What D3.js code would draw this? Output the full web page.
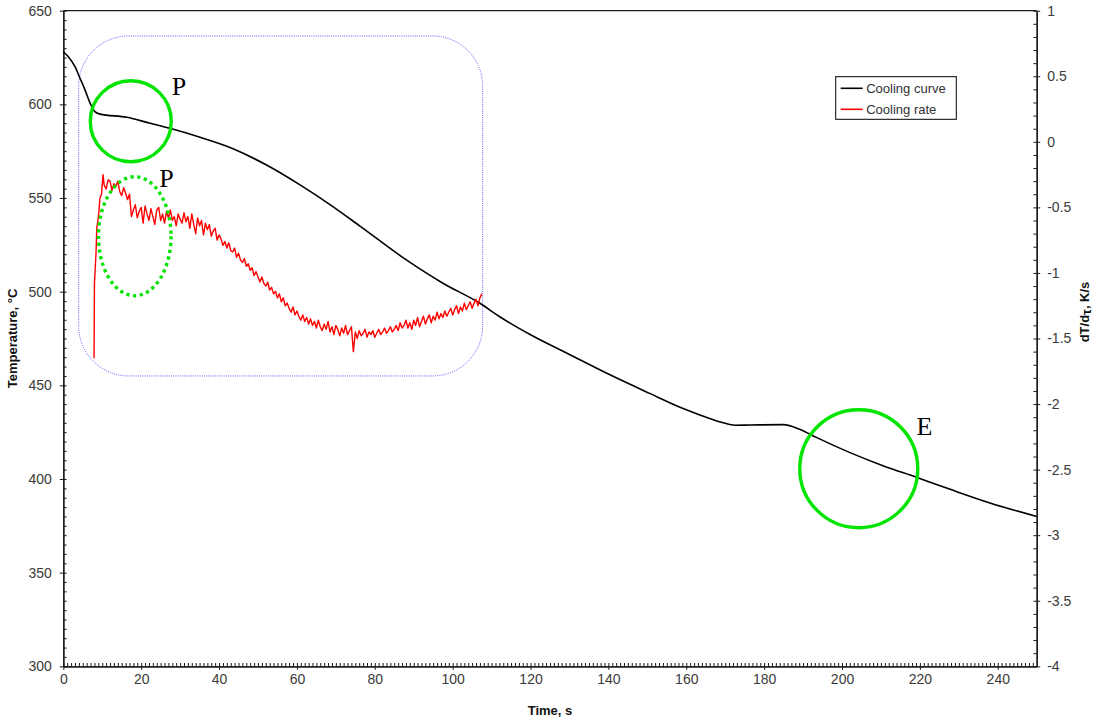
<!DOCTYPE html>
<html>
<head>
<meta charset="utf-8">
<script src="https://cdn.jsdelivr.net/npm/d3@7"></script>
<style>
  html, body { margin: 0; padding: 0; background: #fff; }
  svg { display: block; font-family: "Liberation Sans", Arial, sans-serif; }
</style>
</head>
<body>
<svg id="chart" width="1094" height="719"></svg>
<script>
// ---------------- DATA ----------------
const xTicks = [0, 20, 40, 60, 80, 100, 120, 140, 160, 180, 200, 220, 240];
const yLeftTicks = [300, 350, 400, 450, 500, 550, 600, 650];
const yRightTicks = [1, 0.5, 0, -0.5, -1, -1.5, -2, -2.5, -3, -3.5, -4];

// Cooling curve: [time s, temperature °C]
const coolingCurve = [
  [0, 628.1], [1.3, 625.4], [3, 620.1], [4.3, 613.9], [5.6, 607.6], [6.9, 600.6],
  [8.1, 596.1], [9.4, 594.8], [16.3, 593.1], [22.3, 589.9], [27.4, 587.2],
  [35.1, 582.4], [43.6, 576.3], [52.2, 567.6], [60.8, 557.0], [68.5, 546.5],
  [76.2, 535.0], [88.2, 516.8], [97.5, 504.5], [107, 493.8], [112.1, 486.6],
  [120, 477.0], [130, 466.5], [140, 456.0], [150.6, 445.7], [159.2, 437.6],
  [166, 432.3], [169.5, 430.0], [172.5, 428.7], [176.3, 428.8], [184.9, 429.0], [189.1, 426.6],
  [193.4, 422.2], [201.9, 414.2], [210.5, 407.1], [219.1, 400.9], [227.6, 394.6],
  [238, 387.2], [250, 380.0]
];

// Cooling rate: [time s, dT/dτ K/s]
const coolingRate = [
  [7.9, -1.65], [8.0, -1.08], [8.4, -0.85], [8.6, -0.66], [9.1, -0.55], [9.4, -0.43],
  [9.8, -0.40], [10.2, -0.25],
  [10.5, -0.33], [11, -0.36], [11.5, -0.29], [12, -0.30], [12.5, -0.37], [13, -0.32],
  [13.5, -0.34], [14, -0.30], [14.5, -0.38], [15, -0.41], [15.5, -0.35], [16, -0.39],
  [16.5, -0.44], [17, -0.40], [17.5, -0.57], [18, -0.52], [18.5, -0.48], [19, -0.58],
  [19.5, -0.53], [20, -0.50], [20.5, -0.62], [21, -0.49], [21.5, -0.55], [22, -0.60],
  [22.5, -0.51], [23, -0.57], [23.5, -0.63], [24, -0.52], [24.5, -0.50], [25, -0.60],
  [25.5, -0.55], [26, -0.62], [26.5, -0.53], [27, -0.58], [27.5, -0.52], [28, -0.60],
  [28.5, -0.57], [29, -0.64], [29.5, -0.55], [30, -0.59], [30.5, -0.62], [31, -0.54],
  [31.5, -0.61], [32, -0.57], [32.5, -0.66], [33, -0.55], [33.5, -0.63], [34, -0.70],
  [34.5, -0.58], [35, -0.64], [35.5, -0.60], [36, -0.71], [36.5, -0.62], [37, -0.67],
  [37.5, -0.63], [38, -0.72], [38.5, -0.68], [39, -0.66], [39.5, -0.75], [40, -0.71],
  [40.5, -0.74], [41, -0.79], [41.5, -0.76], [42, -0.81], [42.5, -0.77], [43, -0.83],
  [43.5, -0.84], [44, -0.81], [44.5, -0.88], [45, -0.85], [45.5, -0.90], [46, -0.92],
  [46.5, -0.89], [47, -0.95], [47.5, -0.93], [48, -0.98], [48.5, -0.96], [49, -1.02],
  [49.5, -0.99], [50, -1.03], [50.5, -1.07], [51, -1.03], [51.5, -1.08], [52, -1.10],
  [52.5, -1.07], [53, -1.13], [53.5, -1.11], [54, -1.16], [54.5, -1.14], [55, -1.19],
  [55.5, -1.16], [56, -1.22], [56.5, -1.19], [57, -1.25], [57.5, -1.23], [58, -1.27],
  [58.5, -1.30], [59, -1.26], [59.5, -1.32], [60, -1.29], [60.5, -1.33], [61, -1.36],
  [61.5, -1.32], [62, -1.37], [62.5, -1.34], [63, -1.39], [63.5, -1.35], [64, -1.40],
  [64.5, -1.37], [65, -1.42], [65.5, -1.36], [66, -1.41], [66.5, -1.44], [67, -1.39],
  [67.5, -1.43], [68, -1.37], [68.5, -1.45], [69, -1.41], [69.5, -1.47], [70, -1.40],
  [70.5, -1.43], [71, -1.48], [71.5, -1.42], [72, -1.46], [72.5, -1.40], [73, -1.47],
  [73.5, -1.44], [74, -1.41], [74.5, -1.60], [75, -1.45], [75.5, -1.50], [76, -1.44],
  [76.5, -1.48], [77, -1.46], [77.5, -1.43], [78, -1.49], [78.5, -1.45], [79, -1.47],
  [79.5, -1.44], [80, -1.49], [80.5, -1.46], [81, -1.43], [81.5, -1.47], [82, -1.45],
  [82.5, -1.42], [83, -1.46], [83.5, -1.44], [84, -1.41], [84.5, -1.45], [85, -1.43],
  [85.5, -1.40], [86, -1.44], [86.5, -1.38], [87, -1.42], [87.5, -1.40], [88, -1.36],
  [88.5, -1.42], [89, -1.38], [89.5, -1.43], [90, -1.36], [90.5, -1.40], [91, -1.34],
  [91.5, -1.41], [92, -1.37], [92.5, -1.33], [93, -1.39], [93.5, -1.35], [94, -1.32],
  [94.5, -1.38], [95, -1.33], [95.5, -1.36], [96, -1.30], [96.5, -1.35], [97, -1.31],
  [97.5, -1.34], [98, -1.29], [98.5, -1.33], [99, -1.30], [99.5, -1.27], [100, -1.32],
  [100.5, -1.28], [101, -1.25], [101.5, -1.31], [102, -1.26], [102.5, -1.29], [103, -1.23],
  [103.5, -1.28], [104, -1.25], [104.5, -1.22], [105, -1.27], [105.5, -1.23], [106, -1.20],
  [106.5, -1.25], [107, -1.19], [107.5, -1.16]
];

// Annotation marks (data coordinates)
const highlightBox = { t0: 3.95, t1: 107.7, T0: 636.5, T1: 455 };
const circleP = { t: 17.33, T: 591, r: 40.5 };
const ellipseP = { t: 18.35, v: -0.72, rx: 36.3, ry: 59.5 };
const circleE = { t: 204.3, T: 405.5, r: 59 };
const labels = [
  { text: "P", t: 27.85, T: 605 },
  { text: "P", t: 24.64, v: -0.342 },
  { text: "E", t: 219.1, T: 423.5 }
];
const legendItems = [
  { name: "Cooling curve", color: "#000000" },
  { name: "Cooling rate", color: "#ff0000" }
];

// ---------------- CHART ----------------
const svg = d3.select("#chart");
const L = 63.3, R = 1036.7, T = 10.7, B = 666.3;

const x = d3.scaleLinear().domain([0, 250]).range([L, R]);
const yL = d3.scaleLinear().domain([300, 650]).range([B, T]);
const yR = d3.scaleLinear().domain([-4, 1]).range([B, T]);

const axisColor = "#1a1a1a";
const labelColor = "#3a3a3a";
const fmt = d => String(d);

function styleAxis(g) {
  g.selectAll("path.domain").attr("stroke", axisColor).attr("stroke-width", 1.3);
  g.selectAll(".tick line").attr("stroke", axisColor).attr("stroke-width", 1);
  g.selectAll(".tick text").attr("fill", labelColor).attr("font-size", 14)
    .attr("font-family", "'Liberation Sans', Arial, sans-serif");
}

// X axis: outer major ticks + labels
const gx = svg.append("g").attr("transform", `translate(0,${B})`)
  .call(d3.axisBottom(x).tickValues(xTicks).tickSize(3.5).tickSizeOuter(0).tickPadding(4).tickFormat(fmt));
styleAxis(gx);
// X axis: inner minor + major ticks
const gx2 = svg.append("g").attr("transform", `translate(0,${B})`)
  .call(d3.axisTop(x).tickValues(d3.range(0, 250, 1)).tickSize(3.3).tickSizeOuter(0).tickFormat(""));
styleAxis(gx2);

// Left axis
const gl = svg.append("g").attr("transform", `translate(${L},0)`)
  .call(d3.axisLeft(yL).tickValues(yLeftTicks).tickSize(3.5).tickSizeOuter(0).tickPadding(8).tickFormat(fmt));
styleAxis(gl);
const gl2 = svg.append("g").attr("transform", `translate(${L},0)`)
  .call(d3.axisRight(yL).tickValues(d3.range(300, 651, 5)).tickSize(3.3).tickSizeOuter(0).tickFormat(""));
styleAxis(gl2);

// Right axis
const gr = svg.append("g").attr("transform", `translate(${R},0)`)
  .call(d3.axisRight(yR).tickValues(yRightTicks).tickSize(3.5).tickSizeOuter(0).tickPadding(7).tickFormat(fmt));
styleAxis(gr);
const gr2 = svg.append("g").attr("transform", `translate(${R},0)`)
  .call(d3.axisLeft(yR).tickValues(d3.range(-40, 11, 1).map(d => d / 10)).tickSize(3.3).tickSizeOuter(0).tickFormat(""));
styleAxis(gr2);

// Top border
svg.append("line").attr("x1", L).attr("x2", R).attr("y1", T).attr("y2", T)
  .attr("stroke", axisColor).attr("stroke-width", 1.3);

// Axis titles
svg.append("text")
  .attr("transform", `translate(17,${(T + B) / 2}) rotate(-90)`)
  .attr("text-anchor", "middle").attr("font-size", 13).attr("font-weight", "bold").attr("fill", "#111")
  .text("Temperature, °C");
svg.append("text")
  .attr("x", (L + R) / 2).attr("y", 715)
  .attr("text-anchor", "middle").attr("font-size", 13).attr("font-weight", "bold").attr("fill", "#111")
  .text("Time, s");
const rt = svg.append("text")
  .attr("transform", `translate(1089,312) rotate(-90)`)
  .attr("text-anchor", "middle").attr("font-size", 13).attr("font-weight", "bold").attr("fill", "#111");
rt.append("tspan").text("dT/d");
rt.append("tspan").attr("baseline-shift", "-2").text("τ");
rt.append("tspan").attr("baseline-shift", "0").text(", K/s");

// Highlight box (blue dotted rounded rectangle)
svg.append("rect")
  .attr("x", x(highlightBox.t0)).attr("y", yL(highlightBox.T0))
  .attr("width", x(highlightBox.t1) - x(highlightBox.t0))
  .attr("height", yL(highlightBox.T1) - yL(highlightBox.T0))
  .attr("rx", 50).attr("ry", 50)
  .attr("fill", "none").attr("stroke", "#5b5bff").attr("stroke-width", 1)
  .attr("stroke-dasharray", "1,1.2");

// Cooling curve
svg.append("path").datum(coolingCurve)
  .attr("fill", "none").attr("stroke", "#000").attr("stroke-width", 1.6)
  .attr("d", d3.line().x(d => x(d[0])).y(d => yL(d[1])).curve(d3.curveMonotoneX));

// Cooling rate
svg.append("path").datum(coolingRate)
  .attr("fill", "none").attr("stroke", "#ff0000").attr("stroke-width", 1.4)
  .attr("stroke-linejoin", "round")
  .attr("d", d3.line().x(d => x(d[0])).y(d => yR(d[1])));

// Green annotations
const green = "#00e400";
svg.append("circle").attr("cx", x(circleP.t)).attr("cy", yL(circleP.T)).attr("r", circleP.r)
  .attr("fill", "none").attr("stroke", green).attr("stroke-width", 3.4);
svg.append("ellipse").attr("cx", x(ellipseP.t)).attr("cy", yR(ellipseP.v))
  .attr("rx", ellipseP.rx).attr("ry", ellipseP.ry)
  .attr("fill", "none").attr("stroke", green).attr("stroke-width", 3.4)
  .attr("stroke-dasharray", "3.2,3.6");
svg.append("circle").attr("cx", x(circleE.t)).attr("cy", yL(circleE.T)).attr("r", circleE.r)
  .attr("fill", "none").attr("stroke", green).attr("stroke-width", 3.4);

// Letter labels
labels.forEach(l => {
  const yy = l.T !== undefined ? yL(l.T) : yR(l.v);
  svg.append("text").attr("x", x(l.t)).attr("y", yy)
    .attr("font-family", "'Liberation Serif', 'Times New Roman', serif")
    .attr("font-size", 26).attr("fill", "#000").text(l.text);
});

// Legend
const lg = svg.append("g").attr("transform", "translate(835.7,76.7)");
lg.append("rect").attr("width", 120.6).attr("height", 42.6)
  .attr("fill", "#fff").attr("stroke", "#000").attr("stroke-width", 1);
legendItems.forEach((it, i) => {
  const yy = 11.6 + i * 21;
  lg.append("line").attr("x1", 5).attr("x2", 27).attr("y1", yy).attr("y2", yy)
    .attr("stroke", it.color).attr("stroke-width", 1.6);
  lg.append("text").attr("x", 30.5).attr("y", yy + 4.6)
    .attr("font-size", 13).attr("fill", "#333").text(it.name);
});
</script>
</body>
</html>
